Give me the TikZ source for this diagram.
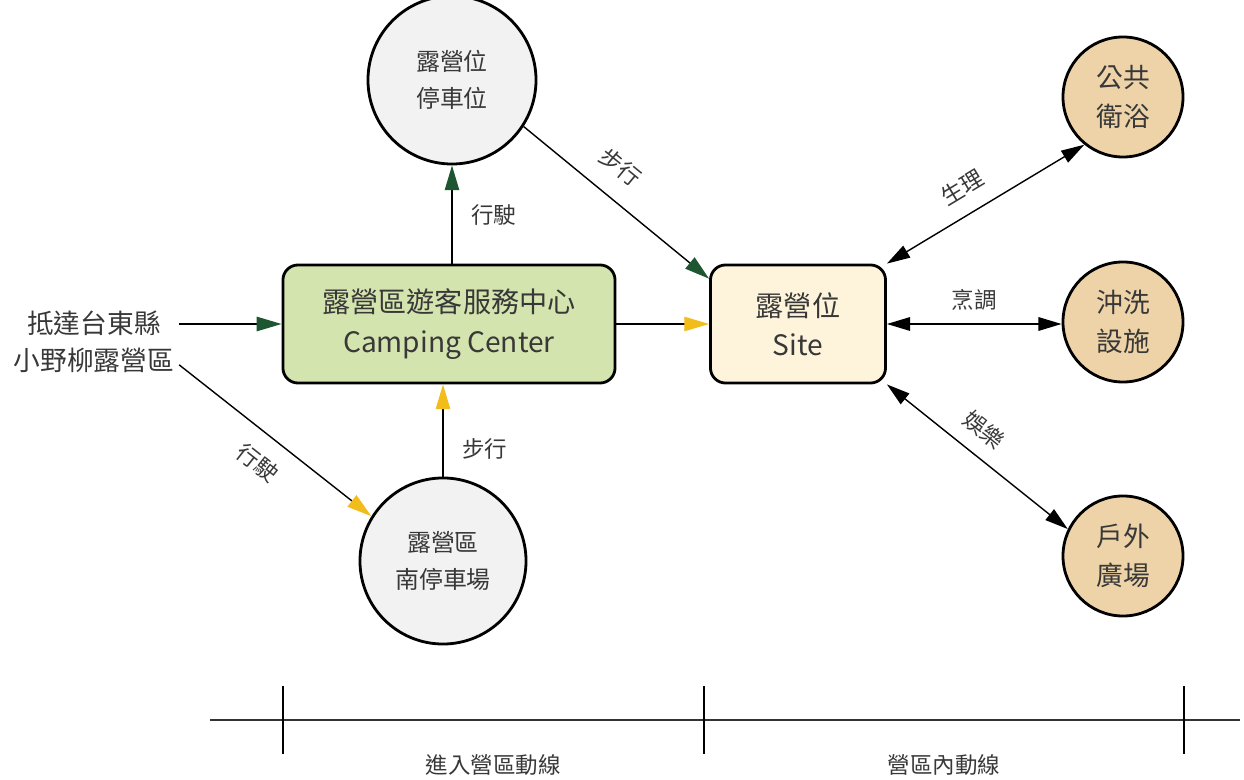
\documentclass[tikz,border=0pt]{standalone}
\usepackage{fontspec}
\setmainfont{Noto Sans CJK TC}
\usetikzlibrary{arrows.meta}
\definecolor{darkgreen}{HTML}{1E5631}
\definecolor{amber}{HTML}{F2BC1B}
\definecolor{boxgreen}{HTML}{D4E4AE}
\definecolor{boxcream}{HTML}{FDF4DB}
\definecolor{circgrey}{HTML}{F2F2F2}
\definecolor{circtan}{HTML}{EDD3A7}
\begin{document}
\begin{tikzpicture}[x=0.025cm,y=-0.025cm,
        every node/.style={text=black!78},
        hub/.style={draw=black,line width=2pt,rounded corners=0.375cm,minimum height=2.95cm,align=center,font=\fontsize{20}{28}\selectfont},
        park/.style={circle,draw=black,line width=2pt,fill=circgrey,align=center,font=\fontsize{17}{26}\selectfont},
        spot/.style={circle,draw=black,line width=2pt,fill=circtan,minimum size=3cm,align=center,font=\fontsize{19}{27.5}\selectfont},
        lbl/.style={font=\fontsize{16}{18}\selectfont},
        drive/.style={line width=1pt,-{Triangle[length=0.62cm,width=0.36cm,color=darkgreen]}},
        walk/.style={line width=1pt,-{Triangle[length=0.62cm,width=0.36cm,color=amber]}},
        both/.style={line width=1pt,{Triangle[length=0.58cm,width=0.34cm]}-{Triangle[length=0.58cm,width=0.34cm]}}]
    \useasboundingbox (0,0) rectangle (1244,780);
    \node[align=center,font=\fontsize{19}{26.5}\selectfont] (arrive) at (94,342) {抵達台東縣\\小野柳露營區};
    \node[hub,fill=boxgreen,minimum width=8.3cm] (center) at (449,324) {露營區遊客服務中心\\Camping Center};
    \node[hub,fill=boxcream,minimum width=4.375cm] (site) at (798,324) {露營位\\Site};
    \node[park,minimum size=4.2cm] (sitepark) at (452,80) {露營位\\停車位};
    \node[park,minimum size=4.15cm] (southpark) at (443,561) {露營區\\南停車場};
    \node[spot] (bath) at (1123,97) {公共\\衛浴};
    \node[spot] (wash) at (1123,322) {沖洗\\設施};
    \node[spot] (plaza) at (1123,556) {戶外\\廣場};
    \draw[drive] (arrive.east |- center.west) -- (center.west);
    \draw[walk] (arrive.-15) -- (southpark.148) node[midway,below=9pt,sloped,lbl] {行駛};
    \draw[drive] (center.north -| sitepark) -- (sitepark.south) node[midway,right=10pt,lbl] {行駛};
    \draw[walk] (southpark.north) -- (southpark.north |- center.south) node[pos=0.3,right=10pt,lbl] {步行};
    \draw[walk] (center.east) -- (site.west);
    \draw[drive] (sitepark.-33) -- (site.153) node[pos=0.42,above=10pt,sloped,lbl] {步行};
    \draw[both] (site.north east) -- (bath.231) node[pos=0.45,above=8pt,sloped,lbl] {生理};
    \draw[both] (site.east) -- (site.east -| wash.west) node[midway,above=6pt,lbl] {烹調};
    \draw[both] (site.south east) -- (plaza.154) node[pos=0.45,above=7pt,sloped,lbl] {娛樂};
    \coordinate (axisstart) at (210,720);
    \coordinate (axisend) at (1240,720);
    \draw[line width=1.5pt,black!80] (axisstart) -- (axisend);
    \foreach \x in {283,704,1184}
        \draw[line width=1pt] (\x,686) -- (\x,754);
    \node[lbl] (entry) at (493,765) {進入營區動線};
    \node[lbl] (inside) at (944,765) {營區內動線};
\end{tikzpicture}
\end{document}
